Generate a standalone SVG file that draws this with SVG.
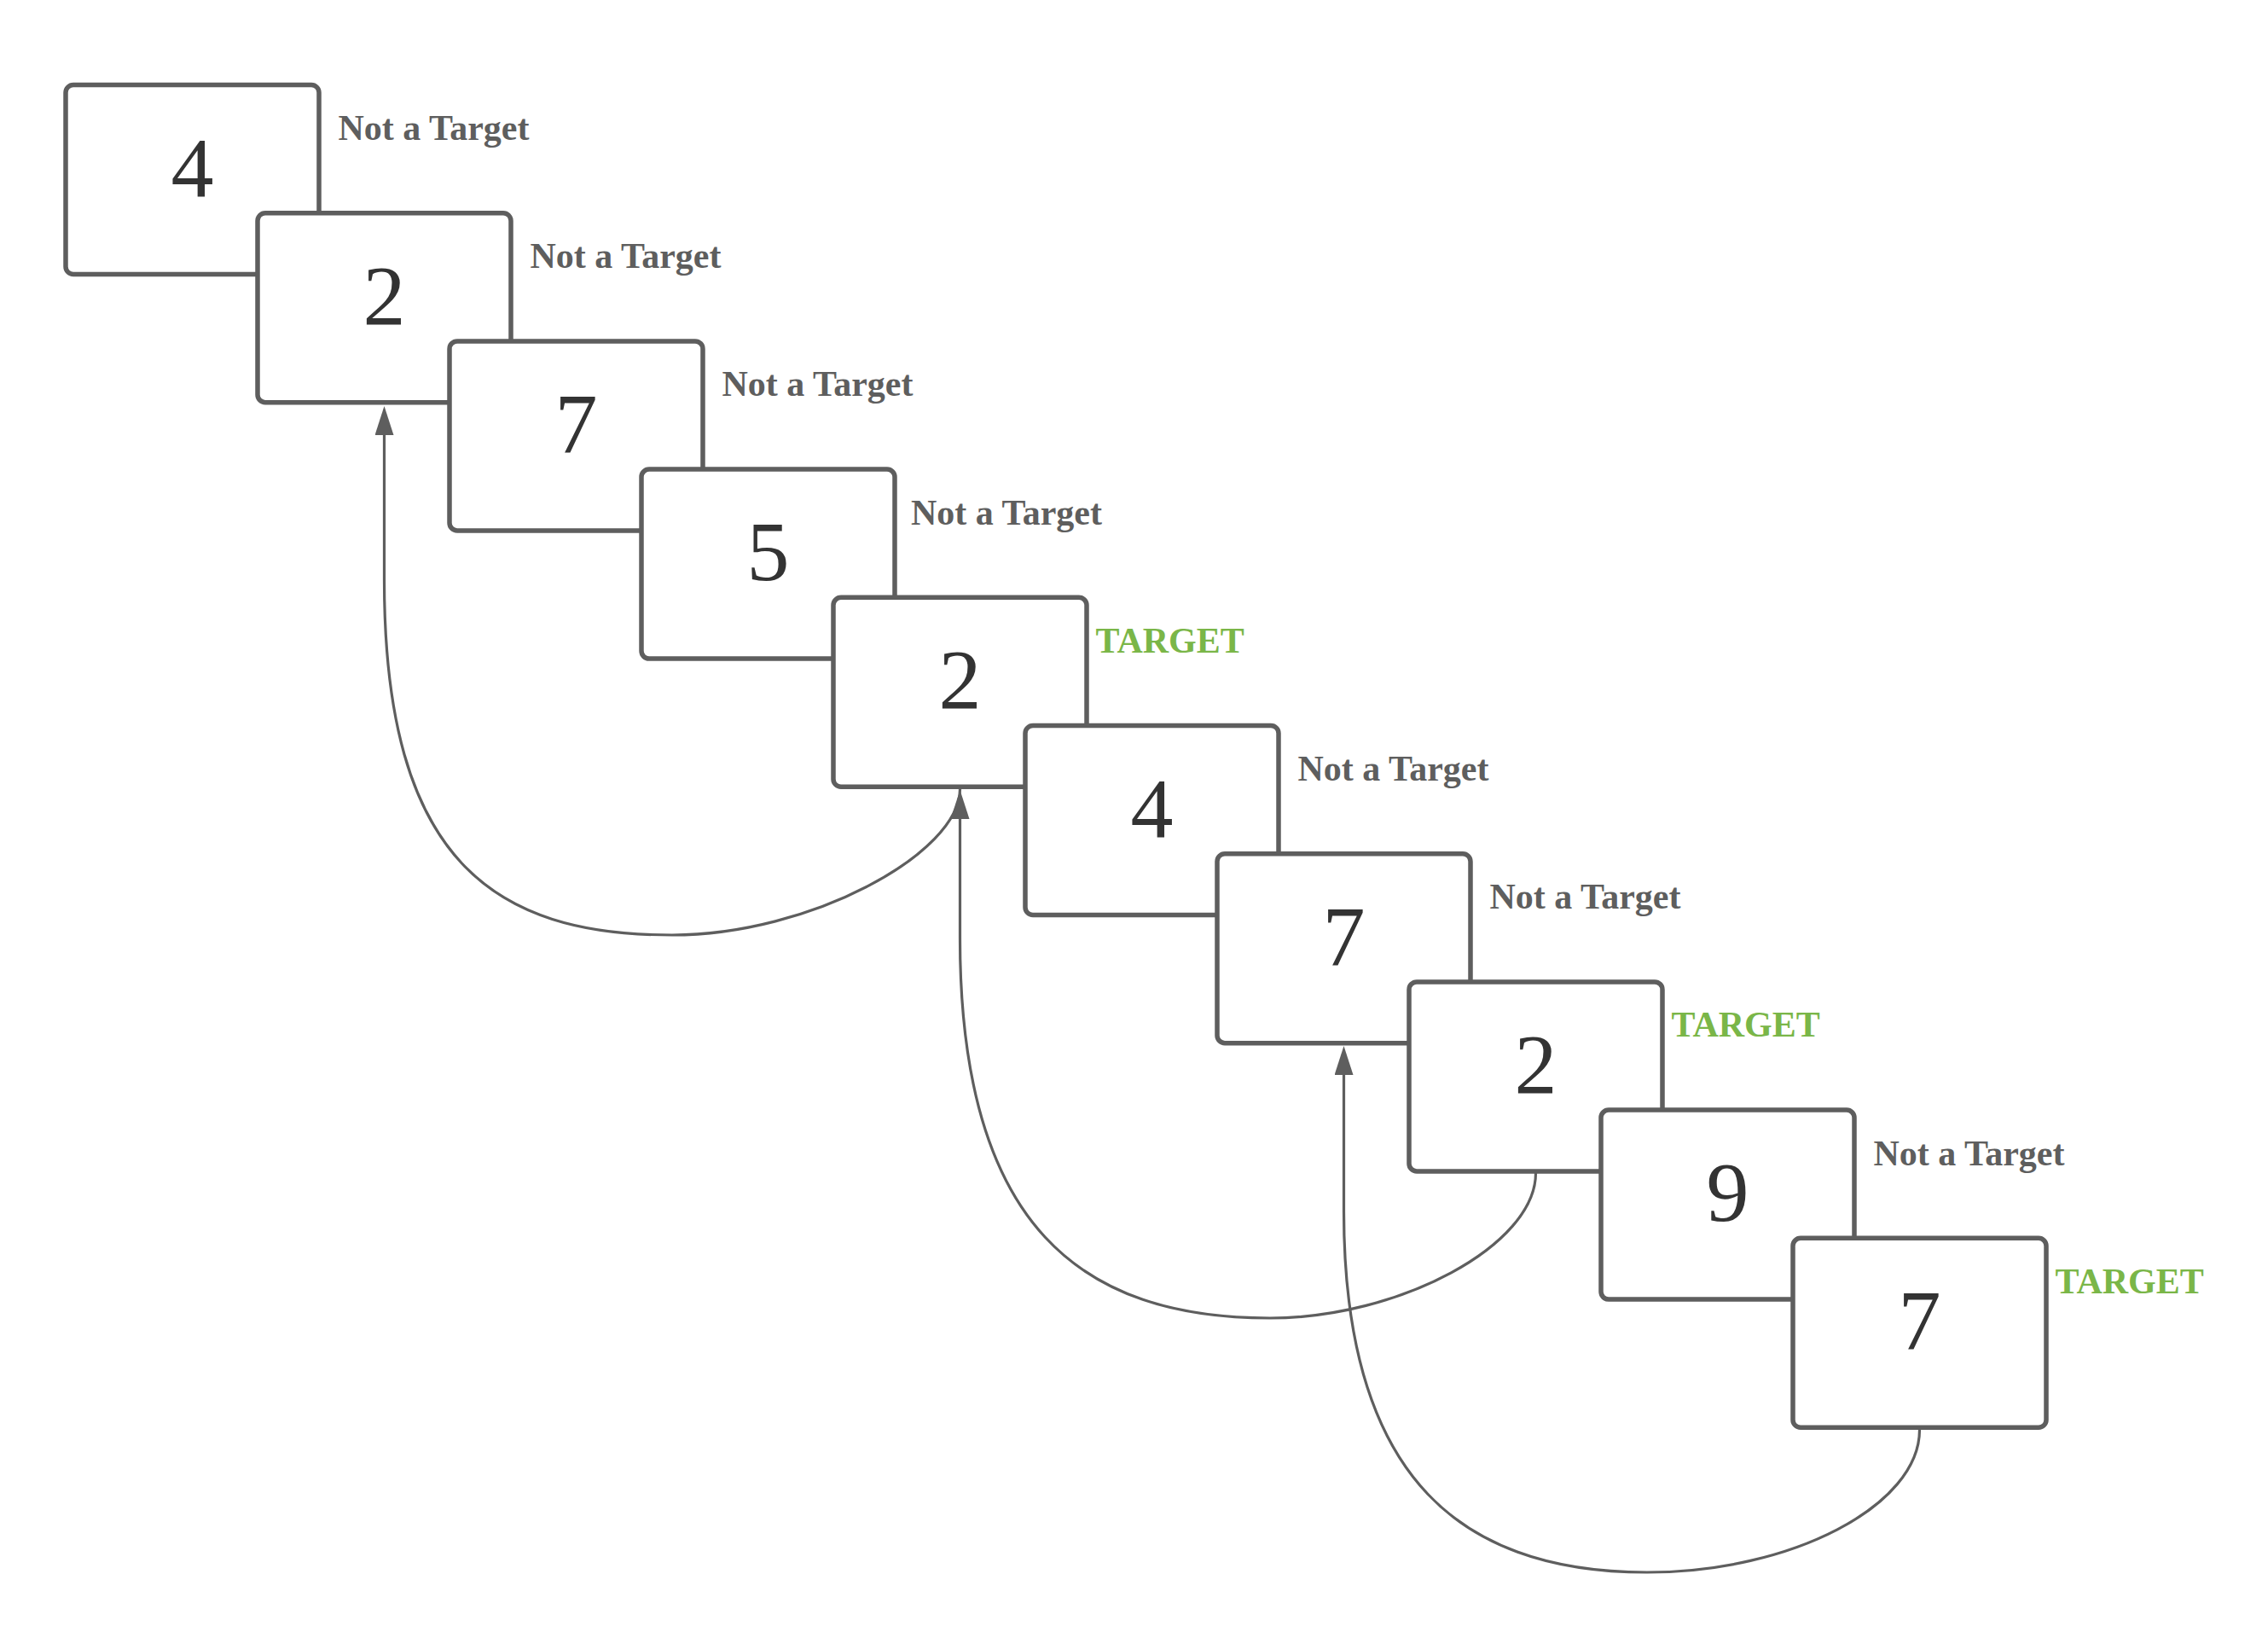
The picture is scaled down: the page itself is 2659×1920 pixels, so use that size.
<svg xmlns="http://www.w3.org/2000/svg" width="2659" height="1920" viewBox="0 0 2659 1920">
<style>
.box{fill:#ffffff;stroke:#5e5e5e;stroke-width:5.5}
.num{font-family:"Liberation Serif","Times New Roman",serif;font-size:100px;fill:#333333;text-anchor:middle}
.lbl{font-family:"Liberation Serif","Times New Roman",serif;font-size:42px;font-weight:bold;fill:#5e5e5e}
.tgt{font-family:"Liberation Serif","Times New Roman",serif;font-size:42px;font-weight:bold;fill:#7ab648}
.conn{fill:none;stroke:#5e5e5e;stroke-width:3.2}
</style>
<defs>
<marker id="arrow" viewBox="0 -11 34 22" refX="0" refY="0" markerWidth="34" markerHeight="22" markerUnits="userSpaceOnUse" orient="auto">
<path d="M0,-11 L34,0 L0,11 z" fill="#5e5e5e"/>
</marker>
</defs>
<rect width="2659" height="1920" fill="#ffffff"/>
<g id="node1"><rect class="box" x="77" y="99.5" width="297" height="222" rx="9"/><text class="num" x="225.5" y="229.5">4</text><text class="lbl" x="396.5" y="164">Not a Target</text></g>
<g id="node2"><rect class="box" x="302" y="249.7" width="297" height="222" rx="9"/><text class="num" x="450.5" y="379.7">2</text><text class="lbl" x="621.5" y="314.2">Not a Target</text></g>
<g id="node3"><rect class="box" x="527" y="399.9" width="297" height="222" rx="9"/><text class="num" x="675.5" y="529.9">7</text><text class="lbl" x="846.5" y="464.4">Not a Target</text></g>
<g id="node4"><rect class="box" x="752" y="550.1" width="297" height="222" rx="9"/><text class="num" x="900.5" y="680.1">5</text><text class="lbl" x="1068" y="614.6">Not a Target</text></g>
<g id="node5"><rect class="box" x="977" y="700.3" width="297" height="222" rx="9"/><text class="num" x="1125.5" y="830.3">2</text><text class="tgt" x="1284.5" y="764.8">TARGET</text></g>
<g id="node6"><rect class="box" x="1202" y="850.5" width="297" height="222" rx="9"/><text class="num" x="1350.5" y="980.5">4</text><text class="lbl" x="1521.5" y="915">Not a Target</text></g>
<g id="node7"><rect class="box" x="1427" y="1000.7" width="297" height="222" rx="9"/><text class="num" x="1575.5" y="1130.7">7</text><text class="lbl" x="1746.5" y="1065.2">Not a Target</text></g>
<g id="node8"><rect class="box" x="1652" y="1150.9" width="297" height="222" rx="9"/><text class="num" x="1800.5" y="1280.9">2</text><text class="tgt" x="1959.5" y="1215.4">TARGET</text></g>
<g id="node9"><rect class="box" x="1877" y="1301.1" width="297" height="222" rx="9"/><text class="num" x="2025.5" y="1431.1">9</text><text class="lbl" x="2196.5" y="1365.6">Not a Target</text></g>
<g id="node10"><rect class="box" x="2102" y="1451.3" width="297" height="222" rx="9"/><text class="num" x="2250.5" y="1581.3">7</text><text class="tgt" x="2409.5" y="1515.8">TARGET</text></g>
<g id="connectors">
<path class="conn" marker-end="url(#arrow)" d="M1125.5,925 C1125.5,1000 950,1096 788,1096 C580,1096 450.5,1010 450.5,680 L450.5,510"/>
<path class="conn" marker-end="url(#arrow)" d="M1800.5,1375 C1800.5,1460 1640,1545 1489,1545 C1270,1545 1125.5,1440 1125.5,1100 L1125.5,960"/>
<path class="conn" marker-end="url(#arrow)" d="M2250.5,1676 C2250.5,1765 2100,1843 1931,1843 C1720,1843 1575.5,1740 1575.5,1420 L1575.5,1260"/>
</g>
</svg>
